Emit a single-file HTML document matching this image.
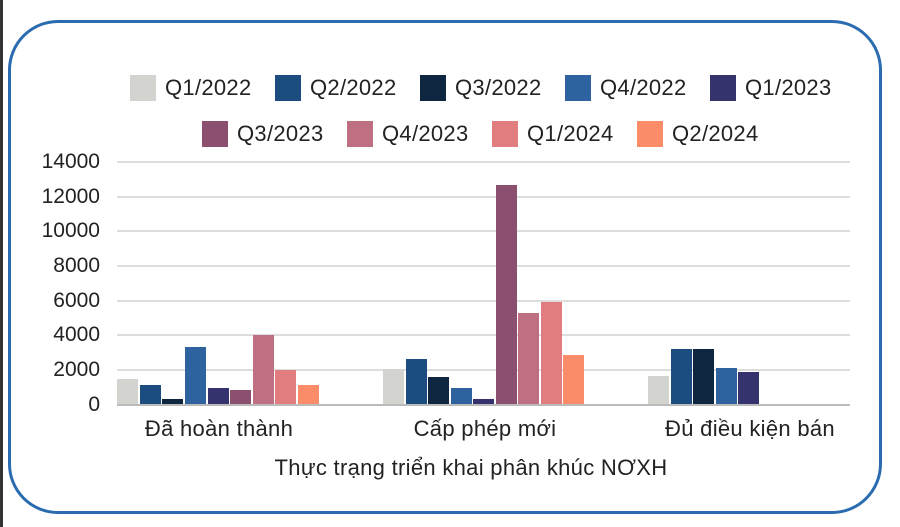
<!DOCTYPE html>
<html><head><meta charset="utf-8"><style>
html,body{margin:0;padding:0;background:#fff;}
body{width:900px;height:527px;position:relative;overflow:hidden;font-family:"Liberation Sans",sans-serif;color:#222;}
.frame{position:absolute;left:8px;top:20px;width:868px;height:488px;border:3px solid #2b6cb0;border-radius:50px;}
.edge{position:absolute;left:0;top:0;width:3px;height:527px;background:#333;}
.sw{position:absolute;width:26px;height:26px;}
.lt{position:absolute;font-size:22px;line-height:26px;letter-spacing:0.3px;}
.yl{position:absolute;right:800px;font-size:21px;line-height:20px;text-align:right;}
.g{position:absolute;left:117px;width:733px;height:2px;background:#ddd;}
.b{position:absolute;width:21px;}
.c{position:absolute;font-size:22px;text-align:center;width:260px;letter-spacing:0.3px;}
</style></head><body>
<div class="edge"></div>
<div class="frame"></div>

<div class="sw" style="left:130px;top:75px;background:#d3d3cf"></div><div class="lt" style="left:165px;top:75px">Q1/2022</div>
<div class="sw" style="left:275px;top:75px;background:#1b4d80"></div><div class="lt" style="left:310px;top:75px">Q2/2022</div>
<div class="sw" style="left:420px;top:75px;background:#0f2640"></div><div class="lt" style="left:455px;top:75px">Q3/2022</div>
<div class="sw" style="left:565px;top:75px;background:#2f63a0"></div><div class="lt" style="left:600px;top:75px">Q4/2022</div>
<div class="sw" style="left:710px;top:75px;background:#35336e"></div><div class="lt" style="left:745px;top:75px">Q1/2023</div>
<div class="sw" style="left:202px;top:121px;background:#8b5070"></div><div class="lt" style="left:237px;top:121px">Q3/2023</div>
<div class="sw" style="left:347px;top:121px;background:#bf6f82"></div><div class="lt" style="left:382px;top:121px">Q4/2023</div>
<div class="sw" style="left:492px;top:121px;background:#e27d7f"></div><div class="lt" style="left:527px;top:121px">Q1/2024</div>
<div class="sw" style="left:637px;top:121px;background:#fb8c6a"></div><div class="lt" style="left:672px;top:121px">Q2/2024</div>

<div class="g" style="top:161px"></div><div class="g" style="top:196px"></div><div class="g" style="top:230px"></div><div class="g" style="top:265px"></div><div class="g" style="top:300px"></div><div class="g" style="top:334px"></div><div class="g" style="top:369px"></div>
<div class="yl" style="top:152px">14000</div><div class="yl" style="top:187px">12000</div><div class="yl" style="top:221px">10000</div><div class="yl" style="top:256px">8000</div><div class="yl" style="top:291px">6000</div><div class="yl" style="top:325px">4000</div><div class="yl" style="top:360px">2000</div><div class="yl" style="top:395px">0</div>

<div class="b" style="left:117px;top:379px;height:25px;background:#d3d3cf"></div>
<div class="b" style="left:139.5px;top:385px;height:19px;background:#1b4d80"></div>
<div class="b" style="left:162px;top:399px;height:5px;background:#0f2640"></div>
<div class="b" style="left:185px;top:347px;height:57px;background:#2f63a0"></div>
<div class="b" style="left:207.5px;top:388px;height:16px;background:#35336e"></div>
<div class="b" style="left:230px;top:390px;height:14px;background:#8b5070"></div>
<div class="b" style="left:252.5px;top:335px;height:69px;background:#bf6f82"></div>
<div class="b" style="left:275px;top:370px;height:34px;background:#e27d7f"></div>
<div class="b" style="left:297.5px;top:385px;height:19px;background:#fb8c6a"></div>

<div class="b" style="left:383px;top:369px;height:35px;background:#d3d3cf"></div>
<div class="b" style="left:405.5px;top:359px;height:45px;background:#1b4d80"></div>
<div class="b" style="left:428px;top:377px;height:27px;background:#0f2640"></div>
<div class="b" style="left:450.5px;top:388px;height:16px;background:#2f63a0"></div>
<div class="b" style="left:473px;top:399px;height:5px;background:#35336e"></div>
<div class="b" style="left:495.5px;top:185px;height:219px;background:#8b5070"></div>
<div class="b" style="left:518px;top:313px;height:91px;background:#bf6f82"></div>
<div class="b" style="left:540.5px;top:302px;height:102px;background:#e27d7f"></div>
<div class="b" style="left:563px;top:355px;height:49px;background:#fb8c6a"></div>

<div class="b" style="left:648px;top:376px;height:28px;background:#d3d3cf"></div>
<div class="b" style="left:670.5px;top:349px;height:55px;background:#1b4d80"></div>
<div class="b" style="left:693px;top:349px;height:55px;background:#0f2640"></div>
<div class="b" style="left:715.5px;top:368px;height:36px;background:#2f63a0"></div>
<div class="b" style="left:738px;top:372px;height:32px;background:#35336e"></div>

<div class="g" style="top:404px;background:#bbb"></div>

<div class="c" style="left:89px;top:416px">Đã hoàn thành</div>
<div class="c" style="left:355px;top:416px">Cấp phép mới</div>
<div class="c" style="left:620px;top:416px">Đủ điều kiện bán</div>
<div class="c" style="left:271px;top:455px;width:400px">Thực trạng triển khai phân khúc NƠXH</div>
</body></html>
